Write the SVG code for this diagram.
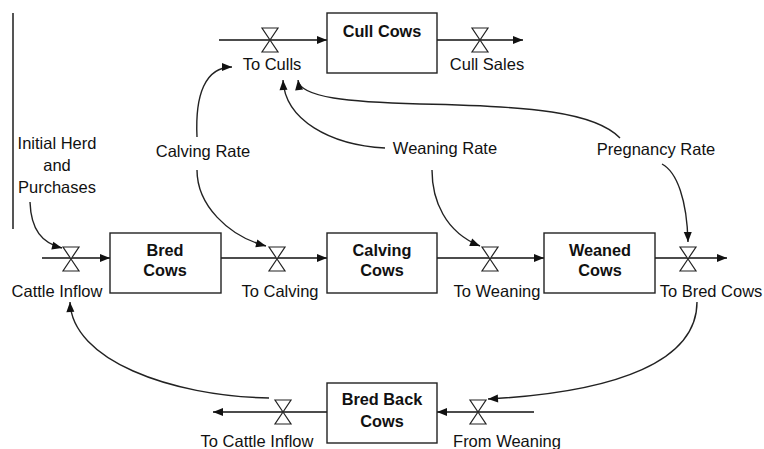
<svg xmlns="http://www.w3.org/2000/svg" width="764" height="449" viewBox="0 0 764 449">
<style>
text{font-family:"Liberation Sans",Arial,sans-serif;font-size:16.5px;fill:#111;text-anchor:middle}
.b{font-weight:bold;font-size:16.3px}
.box{fill:#fff;stroke:#222;stroke-width:1.4}
.flow{stroke:#111;stroke-width:1.7;fill:none}
.link{stroke:#222;stroke-width:1.4;fill:none}
.valve{fill:#fff;stroke:#222;stroke-width:1.2}
</style>
<defs>
<marker id="ah" viewBox="0 0 10 10" refX="10" refY="5" markerWidth="11" markerHeight="10" markerUnits="userSpaceOnUse" orient="auto"><path d="M0,1 L10,5 L0,9 Z" fill="#111"/></marker>
<path id="valve" d="M-8,-12 L8,-12 L0,0 Z M0,0 L8,12 L-8,12 Z"/>
</defs>
<line x1="13" y1="13" x2="13" y2="229" stroke="#555" stroke-width="2"/>
<g id="connectors">
<line class="flow" x1="219" y1="40" x2="327" y2="40" marker-end="url(#ah)"/>
<line class="flow" x1="437" y1="40" x2="523" y2="40" marker-end="url(#ah)"/>
<line class="flow" x1="42" y1="258" x2="110" y2="258" marker-end="url(#ah)"/>
<line class="flow" x1="221" y1="258" x2="327" y2="258" marker-end="url(#ah)"/>
<line class="flow" x1="437" y1="258" x2="544" y2="258" marker-end="url(#ah)"/>
<line class="flow" x1="655" y1="258" x2="727" y2="258" marker-end="url(#ah)"/>
<line class="flow" x1="534" y1="412" x2="437" y2="412" marker-end="url(#ah)"/>
<line class="flow" x1="327" y1="412" x2="213" y2="412" marker-end="url(#ah)"/>
<path class="link" d="M197,137 C195,95 205,67 232,67" marker-end="url(#ah)"/>
<path class="link" d="M197,170 C197,205 228,236 266,246" marker-end="url(#ah)"/>
<path class="link" d="M385,148 C330,145 285,120 283,80" marker-end="url(#ah)"/>
<path class="link" d="M620,138 C595,112 530,106 420,104 C350,102 300,98 298,80" marker-end="url(#ah)"/>
<path class="link" d="M432,170 C432,200 445,232 480,246" marker-end="url(#ah)"/>
<path class="link" d="M662,164 C677,172 687,200 688,242" marker-end="url(#ah)"/>
<path class="link" d="M30,202 C31,230 42,243 62,248" marker-end="url(#ah)"/>
<path class="link" d="M697,302 C697,360 620,392 488,399" marker-end="url(#ah)"/>
<path class="link" d="M269,398 C170,396 72,360 70,302" marker-end="url(#ah)"/>
</g>
<g id="cull-cows"><rect class="box" x="327" y="13" width="110" height="60"/><text class="b" x="382" y="37">Cull Cows</text></g>
<g id="bred-cows"><rect class="box" x="110" y="233" width="111" height="60"/><text class="b" x="165" y="256">Bred</text><text class="b" x="165" y="276">Cows</text></g>
<g id="calving-cows"><rect class="box" x="327" y="233" width="110" height="60"/><text class="b" x="382" y="256">Calving</text><text class="b" x="382" y="276">Cows</text></g>
<g id="weaned-cows"><rect class="box" x="544" y="233" width="111" height="60"/><text class="b" x="600" y="256">Weaned</text><text class="b" x="600" y="276">Cows</text></g>
<g id="bred-back-cows"><rect class="box" x="327" y="383" width="110" height="60"/><text class="b" x="382" y="405">Bred Back</text><text class="b" x="382" y="427">Cows</text></g>
<g id="to-culls"><use href="#valve" class="valve" x="270" y="40"/><text x="272" y="70">To Culls</text></g>
<g id="cull-sales"><use href="#valve" class="valve" x="480" y="40"/><text x="487" y="70">Cull Sales</text></g>
<g id="cattle-inflow"><use href="#valve" class="valve" x="71" y="259"/><text x="57" y="297">Cattle Inflow</text></g>
<g id="to-calving"><use href="#valve" class="valve" x="277" y="259"/><text x="280" y="297">To Calving</text></g>
<g id="to-weaning"><use href="#valve" class="valve" x="490" y="259"/><text x="497" y="297">To Weaning</text></g>
<g id="to-bred-cows"><use href="#valve" class="valve" x="688" y="259"/><text x="711" y="297">To Bred Cows</text></g>
<g id="from-weaning"><use href="#valve" class="valve" x="478" y="412"/><text x="507" y="447">From Weaning</text></g>
<g id="to-cattle-inflow"><use href="#valve" class="valve" x="283" y="412"/><text x="257" y="447">To Cattle Inflow</text></g>
<g id="initial-herd"><text x="57" y="149">Initial Herd</text><text x="57" y="171">and</text><text x="57" y="193">Purchases</text></g>
<g id="calving-rate"><text x="203" y="157">Calving Rate</text></g>
<g id="weaning-rate"><text x="445" y="154">Weaning Rate</text></g>
<g id="pregnancy-rate"><text x="656" y="155">Pregnancy Rate</text></g>
</svg>
